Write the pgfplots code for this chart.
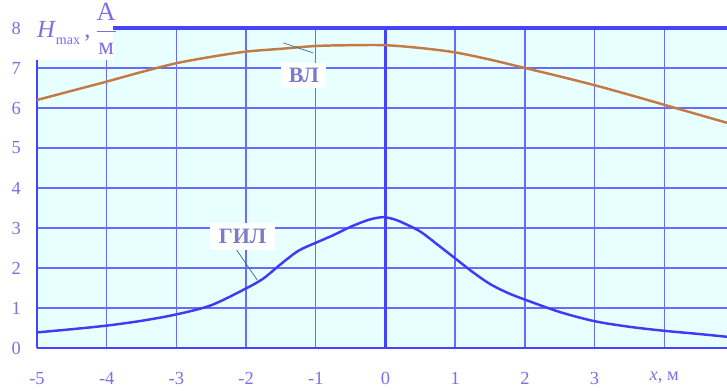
\documentclass[border=0pt]{standalone}
\usepackage{pgfplots}
\pgfplotsset{compat=1.18}
\usepackage{fontspec}
\setmainfont{Liberation Serif}
\definecolor{bgcyan}{HTML}{E8FFFF}
\definecolor{gridblue}{HTML}{6A6AFF}
\definecolor{axisblue}{HTML}{4444FF}
\definecolor{ticktext}{HTML}{7A70E8}
\definecolor{vlbrown}{HTML}{C47A45}
\definecolor{gilblue}{HTML}{3C3CF5}
\definecolor{leader}{HTML}{2F6F8F}
\definecolor{labtext}{HTML}{7B7BC9}
\begin{document}
\begin{tikzpicture}
\begin{axis}[
  name=ax,
  scale only axis,
  width=13.8cm, height=6.4cm,
  xmin=-5, xmax=4.9, ymin=0, ymax=8,
  axis lines*=left,
  axis line style={draw=none},
  axis background/.style={fill=bgcyan},
  clip=false,
  grid=major,
  major grid style={gridblue, line width=0.8pt},
  major tick length=0pt,
  xtick={-5,-4,-3,-2,-1,0,1,2,3,4},
  xticklabels={-5,-4,-3,-2,-1,0,1,2,3,{\textit{x}, м}},
  ytick={0,1,2,3,4,5,6,7,8},
  yticklabels={0,1,2,3,4,5,6,7,8},
  ticklabel style={font=\fontsize{10.5}{12}\selectfont, text=ticktext},
  xticklabel style={yshift=-0.36cm},
  yticklabel style={xshift=-0.2cm},
]
% thick axis lines
\draw[axisblue, line width=1.6pt] (axis cs:-5,0) -- (axis cs:4.9,0);
\draw[axisblue, line width=1.8pt] (axis cs:-5,8) -- (axis cs:4.9,8);
\draw[axisblue, line width=1.6pt] (axis cs:-5,0) -- (axis cs:-5,8);
\draw[axisblue, line width=1.6pt] (axis cs:0,0) -- (axis cs:0,8);

% ВЛ
\addplot[vlbrown, line width=1.4pt, smooth] coordinates {
  (-5,6.20)(-4.5,6.43)(-4,6.66)(-3.5,6.90)(-3,7.12)(-2.5,7.28)
  (-2,7.41)(-1.5,7.48)(-1,7.55)(-0.5,7.57)(0,7.57)(0.5,7.50)
  (1,7.39)(1.5,7.21)(2,7.00)(2.5,6.79)(3,6.57)(3.5,6.33)
  (4,6.08)(4.5,5.83)(4.9,5.63)
};
% ГИЛ
\addplot[gilblue, line width=1.4pt, smooth] coordinates {
  (-5,0.39)(-4.5,0.47)(-4,0.56)(-3.5,0.68)(-3,0.84)(-2.5,1.07)
  (-2,1.49)(-1.75,1.74)(-1.5,2.10)(-1.25,2.43)(-1,2.63)(-0.75,2.82)
  (-0.5,3.03)(-0.25,3.20)(-0.05,3.27)(0.1,3.23)(0.25,3.13)(0.5,2.91)
  (0.75,2.58)(1,2.24)(1.25,1.90)(1.5,1.60)(1.75,1.38)(2,1.21)
  (2.5,0.90)(3,0.67)(3.5,0.53)(4,0.43)(4.5,0.35)(4.9,0.28)
};

% leaders and labels
\draw[leader, line width=0.4pt] (axis cs:-1.47,7.63) -- (axis cs:-1.04,7.38);
\node[fill=white, inner sep=0pt, minimum width=0.9cm, minimum height=0.5cm,
  text=labtext, font=\fontsize{12.5}{14}\selectfont\bfseries]
  at (axis cs:-1.17,6.81) {ВЛ};
\draw[leader, line width=0.4pt] (axis cs:-2.135,2.45) -- (axis cs:-1.84,1.70);
\node[fill=white, inner sep=0pt, minimum width=1.3cm, minimum height=0.55cm,
  text=labtext, font=\fontsize{12.5}{14}\selectfont\bfseries]
  at (axis cs:-2.05,2.79) {ГИЛ};

% y axis title
\fill[white] (axis cs:-5.06,8.75) rectangle (axis cs:-3.91,7.2);
\node[text=ticktext, inner sep=0pt, font=\fontsize{14}{16}\selectfont]
  at (axis cs:-4.42,7.98)
  {\textit{H}\raisebox{-0.6ex}{\fontsize{8}{9}\selectfont max}\,,\,$\displaystyle\frac{\mbox{\fontsize{15}{17}\selectfont А}}{\mbox{м}}$};
\end{axis}
\pgfresetboundingbox
\path ([xshift=-0.74cm,yshift=-0.84cm]ax.south west) rectangle ([yshift=0.56cm]ax.north east);
\end{tikzpicture}
\end{document}
